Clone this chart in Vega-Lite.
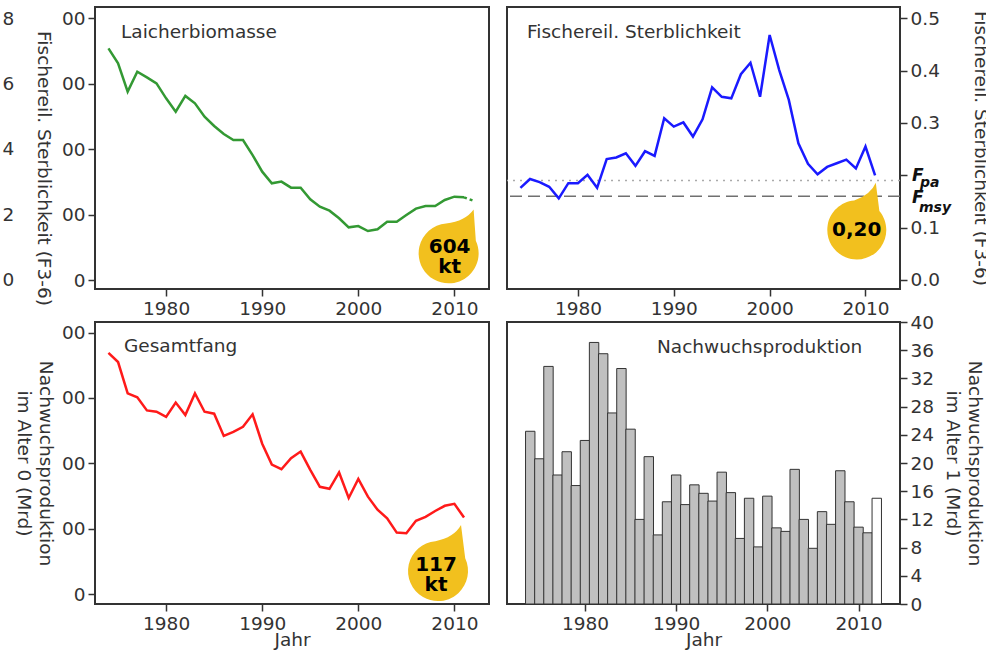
{
  "$schema": "https://vega.github.io/schema/vega-lite/v6.json",
  "padding": {"left": 0, "top": 6, "right": 0, "bottom": 0},
  "background": "white",
  "datasets": {
    "ssb": [
      {"year":1974,"ssb":1768},{"year":1975,"ssb":1654},{"year":1976,"ssb":1438},{"year":1977,"ssb":1590},{"year":1978,"ssb":1547},{"year":1979,"ssb":1501},{"year":1980,"ssb":1387},{"year":1981,"ssb":1285},{"year":1982,"ssb":1405},{"year":1983,"ssb":1349},{"year":1984,"ssb":1247},{"year":1985,"ssb":1176},{"year":1986,"ssb":1115},{"year":1987,"ssb":1069},{"year":1988,"ssb":1069},{"year":1989,"ssb":954},{"year":1990,"ssb":827},{"year":1991,"ssb":738},{"year":1992,"ssb":751},{"year":1993,"ssb":705},{"year":1994,"ssb":705},{"year":1995,"ssb":616},{"year":1996,"ssb":560},{"year":1997,"ssb":529},{"year":1998,"ssb":471},{"year":1999,"ssb":402},{"year":2000,"ssb":412},{"year":2001,"ssb":374},{"year":2002,"ssb":387},{"year":2003,"ssb":445},{"year":2004,"ssb":445},{"year":2005,"ssb":496},{"year":2006,"ssb":545},{"year":2007,"ssb":565},{"year":2008,"ssb":565},{"year":2009,"ssb":611},{"year":2010,"ssb":636},{"year":2011,"ssb":631},{"year":2012,"ssb":604}
    ],
    "f": [
      {"year":1974,"F":0.176},{"year":1975,"F":0.193},{"year":1976,"F":0.187},{"year":1977,"F":0.178},{"year":1978,"F":0.156},{"year":1979,"F":0.185},{"year":1980,"F":0.185},{"year":1981,"F":0.201},{"year":1982,"F":0.176},{"year":1983,"F":0.231},{"year":1984,"F":0.234},{"year":1985,"F":0.242},{"year":1986,"F":0.218},{"year":1987,"F":0.246},{"year":1988,"F":0.237},{"year":1989,"F":0.309},{"year":1990,"F":0.293},{"year":1991,"F":0.301},{"year":1992,"F":0.274},{"year":1993,"F":0.307},{"year":1994,"F":0.368},{"year":1995,"F":0.350},{"year":1996,"F":0.347},{"year":1997,"F":0.393},{"year":1998,"F":0.415},{"year":1999,"F":0.350},{"year":2000,"F":0.468},{"year":2001,"F":0.401},{"year":2002,"F":0.344},{"year":2003,"F":0.261},{"year":2004,"F":0.222},{"year":2005,"F":0.202},{"year":2006,"F":0.216},{"year":2007,"F":0.223},{"year":2008,"F":0.230},{"year":2009,"F":0.213},{"year":2010,"F":0.255},{"year":2011,"F":0.200}
    ],
    "fref": [
      {"ref":"Fpa","F":0.19},{"ref":"Fmsy","F":0.16}
    ],
    "catch": [
      {"year":1974,"catch":369},{"year":1975,"catch":355},{"year":1976,"catch":307},{"year":1977,"catch":301},{"year":1978,"catch":281},{"year":1979,"catch":279},{"year":1980,"catch":271},{"year":1981,"catch":293},{"year":1982,"catch":274},{"year":1983,"catch":307},{"year":1984,"catch":279},{"year":1985,"catch":276},{"year":1986,"catch":242},{"year":1987,"catch":248},{"year":1988,"catch":256},{"year":1989,"catch":275},{"year":1990,"catch":230},{"year":1991,"catch":198},{"year":1992,"catch":191},{"year":1993,"catch":208},{"year":1994,"catch":218},{"year":1995,"catch":190},{"year":1996,"catch":164},{"year":1997,"catch":161},{"year":1998,"catch":186},{"year":1999,"catch":147},{"year":2000,"catch":176},{"year":2001,"catch":149},{"year":2002,"catch":129},{"year":2003,"catch":116},{"year":2004,"catch":94},{"year":2005,"catch":93},{"year":2006,"catch":112},{"year":2007,"catch":118},{"year":2008,"catch":127},{"year":2009,"catch":135},{"year":2010,"catch":138},{"year":2011,"catch":117}
    ],
    "rec": [
      {"year":1974,"rec":24.5},{"year":1975,"rec":20.6},{"year":1976,"rec":33.7},{"year":1977,"rec":18.3},{"year":1978,"rec":21.6},{"year":1979,"rec":16.8},{"year":1980,"rec":23.2},{"year":1981,"rec":37.1},{"year":1982,"rec":35.5},{"year":1983,"rec":27.1},{"year":1984,"rec":33.4},{"year":1985,"rec":24.8},{"year":1986,"rec":12.0},{"year":1987,"rec":20.9},{"year":1988,"rec":9.8},{"year":1989,"rec":14.5},{"year":1990,"rec":18.3},{"year":1991,"rec":14.1},{"year":1992,"rec":16.9},{"year":1993,"rec":15.7},{"year":1994,"rec":14.6},{"year":1995,"rec":18.7},{"year":1996,"rec":15.8},{"year":1997,"rec":9.3},{"year":1998,"rec":15.0},{"year":1999,"rec":8.1},{"year":2000,"rec":15.3},{"year":2001,"rec":10.8},{"year":2002,"rec":10.3},{"year":2003,"rec":19.1},{"year":2004,"rec":12.0},{"year":2005,"rec":7.9},{"year":2006,"rec":13.1},{"year":2007,"rec":11.3},{"year":2008,"rec":18.9},{"year":2009,"rec":14.5},{"year":2010,"rec":10.9},{"year":2011,"rec":10.1},{"year":2012,"rec":15.0}
    ]
  },
  "config": {
    "font": "DejaVu Sans",
    "view": {"stroke": "#333333", "strokeWidth": 2},
    "axis": {"labelFontSize": 18.5, "titleFontSize": 18.5, "labelColor": "#333333", "titleColor": "#333333", "titleFontWeight": "normal", "tickColor": "#333333", "tickSize": 7, "tickWidth": 1.5, "domain": false, "grid": false, "labelPadding": 3, "labelFont": "DejaVu Sans", "titleFont": "DejaVu Sans"},
    "title": {"fontSize": 18.5, "fontWeight": "normal", "color": "#333333", "anchor": "start", "frame": "group", "offset": 0, "baseline": "alphabetic", "font": "DejaVu Sans"}
  },
  "columns": 2,
  "spacing": {"row": 33, "column": 18},
  "bounds": "flush",
  "concat": [
        {
          "width": 394, "height": 282,
          "title": {"text": "Laicherbiomasse", "dx": 26, "dy": 38},
          "layer": [
            {
              "data": {"name": "ssb"},
              "encoding": {
                "x": {"field": "year", "type": "quantitative", "scale": {"domain": [1972.6, 2013.6], "nice": false, "zero": false}, "axis": {"values": [1980, 1990, 2000, 2010], "format": "d", "title": null}},
                "y": {"field": "ssb", "type": "quantitative", "scale": {"domain": [-68.7, 2084], "nice": false, "zero": false}, "axis": {"values": [0, 500, 1000, 1500, 2000], "labelExpr": "datum.value == 0 ? '0' : '00'", "title": "Fischereil. Sterblichkeit (F3-6)", "titleAngle": 90, "titleBaseline": "top", "titleAlign": "center", "titleX": -43, "titleY": 161}}
              },
              "layer": [
                {"transform": [{"filter": "datum.year <= 2011"}], "mark": {"type": "line", "color": "#339933", "strokeWidth": 2.5}},
                {"transform": [{"filter": "datum.year >= 2011"}], "mark": {"type": "line", "color": "#339933", "strokeWidth": 2.5, "strokeDash": [3, 3]}},
                {"transform": [{"filter": "datum.year == 2012"}], "mark": {"type": "point", "shape": "M0,8.5 L2.2,39.8 A30,30 0 1 1 -27.6,22.6 Q-8,20 0,8.5 Z", "size": 4, "filled": true, "color": "#f2c01e", "opacity": 1, "strokeWidth": 0}},
                {"transform": [{"filter": "datum.year == 2012"}], "mark": {"type": "text", "text": ["604", "kt"], "fontWeight": "bold", "fontSize": 20, "lineHeight": 20, "dx": -24, "dy": 46, "align": "center", "baseline": "middle", "color": "#000000"}}
              ]
            },
            {
              "data": {"name": "f"},
              "mark": {"type": "point", "opacity": 0},
              "encoding": {
                "x": {"field": "year", "type": "quantitative", "scale": {"domain": [1972.6, 2013.6], "nice": false, "zero": false}},
                "y": {"field": "F", "type": "quantitative", "scale": {"domain": [-0.0275, 0.8336], "nice": false, "zero": false}, "axis": {"orient": "left", "offset": 81.3, "values": [0, 0.2, 0.4, 0.6, 0.8], "labelExpr": "substring(datum.label, length(datum.label) - 1)", "ticks": false, "tickSize": 0, "labelPadding": 0, "labelOverlap": false, "title": null}}
              }
            }
          ],
          "resolve": {"scale": {"y": "independent"}}
        },
        {
          "width": 393, "height": 282,
          "title": {"text": "Fischereil. Sterblichkeit", "dx": 20, "dy": 38},
          "encoding": {
            "x": {"field": "year", "type": "quantitative", "scale": {"domain": [1972.6, 2013.6], "nice": false, "zero": false}, "axis": {"values": [1980, 1990, 2000, 2010], "format": "d", "title": null}},
            "y": {"field": "F", "type": "quantitative", "scale": {"domain": [-0.0172, 0.5215], "nice": false, "zero": false}, "axis": {"orient": "right", "values": [0, 0.1, 0.2, 0.3, 0.4, 0.5], "labelExpr": "abs(datum.value - 0.2) < 0.001 ? '' : format(datum.value, '.1f')", "title": "Fischereil. Sterblichkeit (F3-6)", "titlePadding": 31}}
          },
          "layer": [
            {"data": {"name": "fref"}, "mark": {"type": "rule", "strokeWidth": 1.5},
             "encoding": {
               "x": null,
               "y": {"field": "F", "type": "quantitative"},
               "strokeDash": {"field": "ref", "type": "nominal", "scale": {"domain": ["Fpa", "Fmsy"], "range": [[2, 5], [12, 6]]}, "legend": null},
               "color": {"field": "ref", "type": "nominal", "scale": {"domain": ["Fpa", "Fmsy"], "range": ["#aaaaaa", "#707070"]}, "legend": null}
             }},
            {"data": {"name": "f"}, "mark": {"type": "line", "color": "#1a1aff", "strokeWidth": 2.5}},
            {"data": {"name": "f"}, "transform": [{"filter": "datum.year == 2011"}], "mark": {"type": "point", "shape": "M0.7,7.4 L4.3,35.7 A29.5,29.5 0 1 1 -20.9,25.3 Q-4,19 0.7,7.4 Z", "size": 4, "filled": true, "color": "#f2c01e", "opacity": 1, "strokeWidth": 0}},
            {"data": {"name": "f"}, "transform": [{"filter": "datum.year == 2011"}], "mark": {"type": "text", "text": "0,20", "fontWeight": "bold", "fontSize": 20, "dx": -18.3, "dy": 55, "align": "center", "baseline": "middle", "color": "#000000"}},
            {"data": {"name": "fref"}, "transform": [{"filter": "datum.ref == 'Fpa'"}], "mark": {"type": "text", "x": "width", "text": "F", "fontWeight": "bold", "fontStyle": "italic", "fontSize": 17, "dx": 12, "dy": 0, "align": "left", "baseline": "alphabetic", "color": "#111111"},
             "encoding": {"x": null, "y": {"field": "F", "type": "quantitative"}}},
            {"data": {"name": "fref"}, "transform": [{"filter": "datum.ref == 'Fpa'"}], "mark": {"type": "text", "x": "width", "text": "pa", "fontWeight": "bold", "fontStyle": "italic", "fontSize": 14, "dx": 20, "dy": 6, "align": "left", "baseline": "alphabetic", "color": "#111111"},
             "encoding": {"x": null, "y": {"field": "F", "type": "quantitative"}}},
            {"data": {"name": "fref"}, "transform": [{"filter": "datum.ref == 'Fmsy'"}], "mark": {"type": "text", "x": "width", "text": "F", "fontWeight": "bold", "fontStyle": "italic", "fontSize": 17, "dx": 12, "dy": 7, "align": "left", "baseline": "alphabetic", "color": "#111111"},
             "encoding": {"x": null, "y": {"field": "F", "type": "quantitative"}}},
            {"data": {"name": "fref"}, "transform": [{"filter": "datum.ref == 'Fmsy'"}], "mark": {"type": "text", "x": "width", "text": "msy", "fontWeight": "bold", "fontStyle": "italic", "fontSize": 14, "dx": 19, "dy": 16, "align": "left", "baseline": "alphabetic", "color": "#111111"},
             "encoding": {"x": null, "y": {"field": "F", "type": "quantitative"}}}
          ]
        },
        {
          "width": 394, "height": 282,
          "title": {"text": "Gesamtfang", "dx": 29, "dy": 37},
          "data": {"name": "catch"},
          "encoding": {
            "x": {"field": "year", "type": "quantitative", "scale": {"domain": [1972.6, 2013.6], "nice": false, "zero": false}, "axis": {"values": [1980, 1990, 2000, 2010], "format": "d", "title": "Jahr", "titlePadding": -2}},
            "y": {"field": "catch", "type": "quantitative", "scale": {"domain": [-15.3, 416.3], "nice": false, "zero": false}, "axis": {"values": [0, 100, 200, 300, 400], "labelExpr": "datum.value == 0 ? '0' : '00'", "title": ["Nachwuchsproduktion", "im Alter 0 (Mrd)"], "titleAngle": 90, "titleBaseline": "top", "titleAlign": "center", "titleX": -41, "titleY": 141, "titleLineHeight": 22}}
          },
          "layer": [
            {"mark": {"type": "line", "color": "#ff1a1a", "strokeWidth": 2.5}},
            {"transform": [{"filter": "datum.year == 2011"}], "mark": {"type": "point", "shape": "M-3,7.5 L1.2,40.8 A30,30 0 1 1 -28.6,23.6 Q-10,20 -3,7.5 Z", "size": 4, "filled": true, "color": "#f2c01e", "opacity": 1, "strokeWidth": 0}},
            {"transform": [{"filter": "datum.year == 2011"}], "mark": {"type": "text", "text": ["117", "kt"], "fontWeight": "bold", "fontSize": 20, "lineHeight": 20, "dx": -28, "dy": 47.5, "align": "center", "baseline": "middle", "color": "#000000"}}
          ]
        },
        {
          "width": 393, "height": 282,
          "title": {"text": "Nachwuchsproduktion", "dx": 150, "dy": 47},
          "data": {"name": "rec"},
          "mark": {"type": "bar", "width": 9.4, "stroke": "#333333", "strokeWidth": 1},
          "encoding": {
            "x": {"field": "year", "type": "quantitative", "scale": {"domain": [1972.0, 2014.0], "nice": false, "zero": false}, "axis": {"values": [1980, 1990, 2000, 2010], "format": "d", "title": "Jahr", "titlePadding": -2}},
            "y": {"field": "rec", "type": "quantitative", "scale": {"domain": [0, 40], "nice": false}, "axis": {"orient": "right", "values": [0, 4, 8, 12, 16, 20, 24, 28, 32, 36, 40], "title": ["Nachwuchsproduktion", "im Alter 1 (Mrd)"], "titlePadding": 9, "titleLineHeight": 22}},
            "fill": {"condition": {"test": "datum.year == 2012", "value": "#ffffff"}, "value": "#c0c0c0"}
          }
        }
  ]
}
